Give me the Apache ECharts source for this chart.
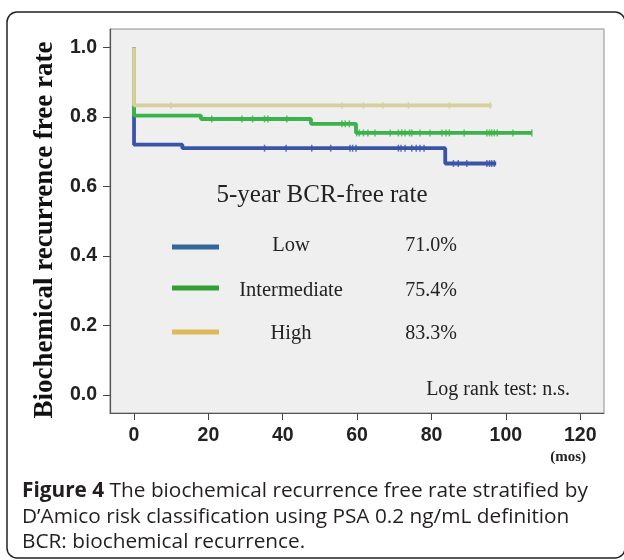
<!DOCTYPE html>
<html>
<head>
<meta charset="utf-8">
<title>BCR-free rate</title>
<script src="https://cdn.jsdelivr.net/npm/echarts@6.0.0/dist/echarts.min.js"></script>
<style>
  html, body { margin: 0; padding: 0; background: #fff; }
  #chart { width: 624px; height: 560px; }
</style>
</head>
<body>
<div id="chart"></div>
<script>
// step curves: event times (months) and survival after each step
var lowTime = [0, 0, 13.0, 83.7, 97.4];
var lowRate = [1.0, 0.720, 0.710, 0.666, 0.666];
var lowCensor = [35.1, 40.9, 47.8, 52.9, 58.1, 58.8, 59.7, 71.1, 71.8, 72.9, 74.7, 75.9, 76.9, 78.0,
                 85.9, 87.2, 89.5, 94.9, 95.6, 96.2, 96.9];

var midTime = [0, 0, 18.0, 47.6, 59.7, 107.0];
var midRate = [1.0, 0.804, 0.794, 0.780, 0.754, 0.754];
var midCensor = [20.9, 29.0, 31.9, 35.1, 36.0, 41.1, 55.9, 56.8, 57.9, 59.9, 60.6, 61.7, 62.9, 64.8,
                 68.9, 71.1, 72.0, 72.9, 74.1, 74.7, 76.9, 79.6, 82.8, 83.9, 84.8, 88.8, 94.9, 95.6,
                 96.2, 96.9, 97.7, 101.9, 107.0];

var highTime = [0, 0, 96.2];
var highRate = [1.0, 0.833, 0.833];
var highCensor = [9.9, 55.9, 61.7, 66.9, 73.8, 84.8, 95.8];

var groupNames = ['Low', 'Intermediate', 'High'];
var fiveYear = ['71.0%', '75.4%', '83.3%'];
var xTicks = [0, 20, 40, 60, 80, 100, 120];
var yTicks = [0, 0.2, 0.4, 0.6, 0.8, 1.0];

var curveColors = ['#3a54a6', '#3cb34a', '#d6d09c'];
var keyColors = ['#336699', '#33a036', '#ddb95a'];

function rateAt(times, rates, t) {
    var r = rates[0];
    for (var i = 0; i < times.length; i++) {
        if (times[i] <= t) r = rates[i];
    }
    return r;
}
function stepData(times, rates) {
    return times.map(function (t, i) { return [t, rates[i]]; });
}
function censorData(times, rates, cens) {
    return cens.map(function (t) { return [t, rateAt(times, rates, t)]; });
}

var curves = [
    [lowTime, lowRate, lowCensor],
    [midTime, midRate, midCensor],
    [highTime, highRate, highCensor]
];

var series = [];
curves.forEach(function (c, i) {
    series.push({
        name: groupNames[i],
        type: 'line',
        step: 'end',
        data: stepData(c[0], c[1]),
        showSymbol: false,
        lineStyle: { color: curveColors[i], width: 3.8 },
        z: 2 + i
    });
});
curves.forEach(function (c, i) {
    series.push({
        name: groupNames[i] + ' censored',
        type: 'scatter',
        data: censorData(c[0], c[1], c[2]),
        symbol: 'rect',
        symbolSize: [1.5, 7],
        itemStyle: { color: curveColors[i] },
        z: 6
    });
});

var serif = '"Liberation Serif", "DejaVu Serif", serif';
var sans = '"Liberation Sans", Arial, sans-serif';
var capFont = '"Open Sans", "Noto Sans", sans-serif';

var graphics = [
    {
        type: 'rect',
        shape: { x: 7, y: 12, width: 618, height: 546, r: 10 },
        style: { fill: 'none', stroke: '#222', lineWidth: 1.5 }
    },
    {
        type: 'text', x: 45, y: 230, rotation: Math.PI / 2,
        style: {
            text: 'Biochemical recurrence free rate', font: 'bold 27px ' + serif,
            fill: '#111', align: 'center', verticalAlign: 'middle'
        }
    },
    {
        type: 'text', x: 322, y: 195,
        style: { text: '5-year BCR-free rate', font: '25px ' + serif, fill: '#222', align: 'center', verticalAlign: 'middle' }
    },
    {
        type: 'text', x: 570, y: 390,
        style: { text: 'Log rank test: n.s.', font: '20px ' + serif, fill: '#222', align: 'right', verticalAlign: 'middle' }
    },
    {
        type: 'text', x: 586, y: 457,
        style: { text: '(mos)', font: 'bold 15px ' + serif, fill: '#222', align: 'right', verticalAlign: 'middle' }
    },
    {
        type: 'text', x: 22, y: 491,
        style: {
            text: '{b|Figure 4} The biochemical recurrence free rate stratified by',
            font: '20.8px ' + capFont, fill: '#231f20', verticalAlign: 'middle',
            rich: { b: { font: 'bold 20.8px ' + capFont, fill: '#231f20' } }
        }
    },
    {
        type: 'text', x: 22, y: 517,
        style: { text: 'D\u2019Amico risk classification using PSA 0.2 ng/mL definition', font: '20.8px ' + capFont, fill: '#231f20', verticalAlign: 'middle' }
    },
    {
        type: 'text', x: 22, y: 542,
        style: { text: 'BCR: biochemical recurrence.', font: '20.8px ' + capFont, fill: '#231f20', verticalAlign: 'middle' }
    }
];

var keyY = [246, 291, 334];
var lineY = [247, 288, 332];
groupNames.forEach(function (name, i) {
    graphics.push({
        type: 'rect',
        shape: { x: 172, y: lineY[i] - 2.5, width: 47, height: 5 },
        style: { fill: keyColors[i] }
    });
    graphics.push({
        type: 'text', x: 291, y: keyY[i],
        style: { text: name, font: '20.5px ' + serif, fill: '#222', align: 'center', verticalAlign: 'middle' }
    });
    graphics.push({
        type: 'text', x: 457, y: keyY[i],
        style: { text: fiveYear[i], font: '20px ' + serif, fill: '#222', align: 'right', verticalAlign: 'middle' }
    });
});

var chart = echarts.init(document.getElementById('chart'), null, { renderer: 'canvas' });
chart.setOption({
    animation: false,
    backgroundColor: '#ffffff',
    grid: {
        left: 110, top: 29, width: 494, height: 384,
        show: true, backgroundColor: '#efefef', borderColor: '#8e8e8e', borderWidth: 1
    },
    xAxis: {
        type: 'value', min: -6.46, max: 126.4,
        axisLine: { show: true, onZero: false, lineStyle: { color: '#555', width: 1.2 } },
        axisTick: { show: true, customValues: xTicks, length: 7, lineStyle: { color: '#444' } },
        axisLabel: {
            customValues: xTicks, margin: 13,
            fontFamily: sans, fontWeight: 'bold', fontSize: 19.5, color: '#222'
        },
        splitLine: { show: false }
    },
    yAxis: {
        type: 'value', min: -0.052, max: 1.053,
        axisLine: { show: true, onZero: false, lineStyle: { color: '#555', width: 1.2 } },
        axisTick: { show: true, customValues: yTicks, length: 7, lineStyle: { color: '#444' } },
        axisLabel: {
            customValues: yTicks, margin: 13,
            fontFamily: sans, fontWeight: 'bold', fontSize: 19.5, color: '#222',
            formatter: function (v) { return v.toFixed(1); }
        },
        splitLine: { show: false }
    },
    series: series,
    graphic: graphics
});
</script>
</body>
</html>
